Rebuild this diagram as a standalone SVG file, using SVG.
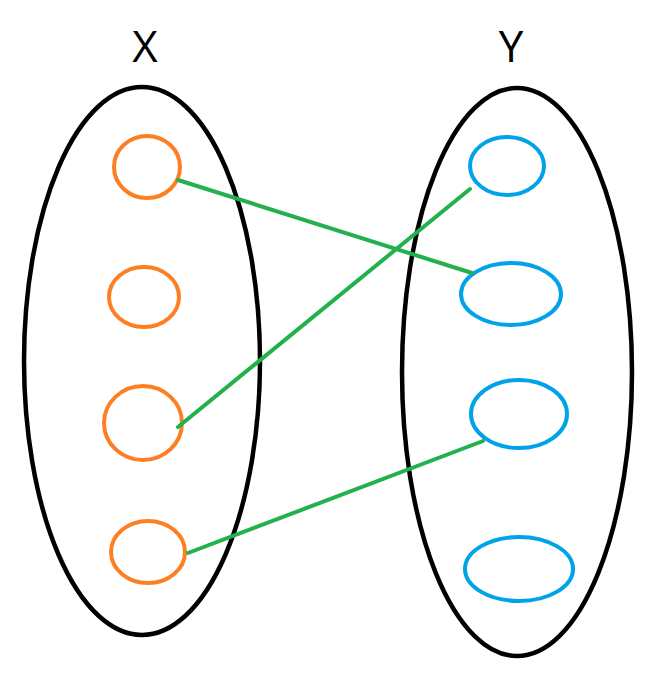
<svg xmlns="http://www.w3.org/2000/svg" width="651" height="677" viewBox="0 0 651 677">
<style>
.set{fill:none;stroke:#000;stroke-width:4.5}
.x{fill:none;stroke:#fd7f23;stroke-width:4}
.y{fill:none;stroke:#00a2e8;stroke-width:4}
.e{stroke:#22b14c;stroke-width:4;stroke-linecap:round}
.lbl{font-family:"Open Sans","Liberation Sans",Arial,sans-serif;font-size:44px;fill:#000;text-anchor:middle}
</style>
<rect width="651" height="677" fill="#fff"/>
<g id="setX"><ellipse class="set" cx="142" cy="361" rx="118" ry="274"/><text class="lbl" x="145" y="62">X</text></g>
<g id="setY"><ellipse class="set" cx="517" cy="372" rx="115" ry="284"/><text class="lbl" x="511" y="62">Y</text></g>
<g id="x1"><ellipse class="x" cx="147" cy="167" rx="33" ry="31"/></g>
<g id="x2"><ellipse class="x" cx="144" cy="297" rx="35" ry="30"/></g>
<g id="x3"><ellipse class="x" cx="143" cy="423" rx="39" ry="37"/></g>
<g id="x4"><ellipse class="x" cx="148" cy="552" rx="37" ry="31"/></g>
<g id="y1"><ellipse class="y" cx="507" cy="166" rx="37" ry="29"/></g>
<g id="y2"><ellipse class="y" cx="511" cy="294" rx="50" ry="31"/></g>
<g id="y3"><ellipse class="y" cx="519" cy="414" rx="48" ry="34"/></g>
<g id="y4"><ellipse class="y" cx="519" cy="569" rx="54" ry="32"/></g>
<g id="edges">
<line class="e" x1="178" y1="180" x2="472" y2="273"/>
<line class="e" x1="178" y1="427" x2="470" y2="189"/>
<line class="e" x1="188" y1="553" x2="483" y2="441"/>
</g>
</svg>
